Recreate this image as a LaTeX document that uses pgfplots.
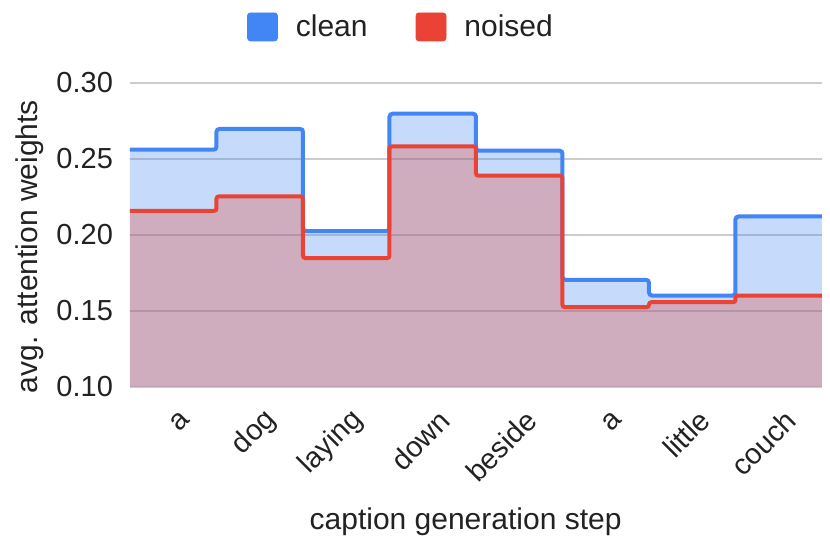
\documentclass[border=0pt]{standalone}
\usepackage{pgfplots}
\pgfplotsset{compat=1.18}
\usepackage{fontspec}
\setmainfont{Liberation Sans}
\definecolor{gblue}{HTML}{4285F4}
\definecolor{gred}{HTML}{EA4335}
\definecolor{gridc}{HTML}{CCCCCC}
\definecolor{txt}{HTML}{222222}
\begin{document}
\begin{tikzpicture}
\useasboundingbox (-65pt,-80.15pt) rectangle (350pt,193.35pt);
\begin{axis}[
  at={(0,0)}, anchor=south west,
  scale only axis, width=346pt, height=152pt,
  xmin=0, xmax=8, ymin=0.1, ymax=0.3,
  ytick={0.10,0.15,0.20,0.25,0.30},
  yticklabel style={/pgf/number format/fixed,/pgf/number format/precision=2,/pgf/number format/fixed zerofill, xshift=-5pt},
  /pgf/number format/assume math mode=true,
  xtick={0.5,1.5,2.5,3.5,4.5,5.5,6.5,7.5},
  xticklabels={a,dog,laying,down,beside,a,little,couch},
  x tick label style={xshift=8.5pt, yshift=-12pt, rotate=45, anchor=east},
  tick label style={font=\fontsize{14.5}{17}\selectfont, text=txt},
  ymajorgrids, grid style={gridc, line width=1pt},
  axis line style={draw=none}, major tick style={draw=none},
  every axis y label/.style={at={(rel axis cs:0,0.461)}, xshift=-50pt, rotate=90, anchor=center, font=\fontsize{15}{18}\selectfont, text=txt},
  every axis x label/.style={at={(rel axis cs:0.485,0)}, yshift=-67.6pt, anchor=center, font=\fontsize{15}{18}\selectfont, text=txt},
  ylabel={avg. attention weights},
  xlabel={caption generation step},
  legend style={at={(rel axis cs:0.393,1)}, yshift=27.9pt, anchor=center, draw=none, fill=none,
    legend columns=2, font=\fontsize{15}{18}\selectfont, text=txt,
    /tikz/every even column/.append style={column sep=22pt}},
  legend image code/.code={\fill[#1, rounded corners=1.5pt] (0pt,-7pt) rectangle (15pt,7pt); \path (22pt,0pt);},
  clip=false,
]
\addplot[fill=gblue, fill opacity=0.3, draw=none, forget plot] coordinates {
(0,0.2559) (1,0.2559) (1,0.2696) (2,0.2696) (2,0.2024) (3,0.2024) (3,0.2796) (4,0.2796) (4,0.2553) (5,0.2553) (5,0.1703) (6,0.1703) (6,0.1600) (7,0.1600) (7,0.2120) (8,0.2120)} |- (axis cs:0,0.1) -- cycle;
\addplot[fill=gred, fill opacity=0.3, draw=none, forget plot] coordinates {
(0,0.2157) (1,0.2157) (1,0.2252) (2,0.2252) (2,0.1846) (3,0.1846) (3,0.2581) (4,0.2581) (4,0.2388) (5,0.2388) (5,0.1523) (6,0.1523) (6,0.1556) (7,0.1556) (7,0.1600) (8,0.1600)} |- (axis cs:0,0.1) -- cycle;
\addplot[gblue, line width=2pt, rounded corners=1.5pt, line cap=butt, forget plot] coordinates {
(0,0.2559) (1,0.2559) (1,0.2696) (2,0.2696) (2,0.2024) (3,0.2024) (3,0.2796) (4,0.2796) (4,0.2553) (5,0.2553) (5,0.1703) (6,0.1703) (6,0.1600) (7,0.1600) (7,0.2120) (8,0.2120)};
\addplot[gred, line width=2pt, rounded corners=1.2pt, line cap=butt, forget plot] coordinates {
(0,0.2157) (1,0.2157) (1,0.2252) (2,0.2252) (2,0.1846) (3,0.1846) (3,0.2581) (4,0.2581) (4,0.2388) (5,0.2388) (5,0.1523) (6,0.1523) (6,0.1556) (7,0.1556) (7,0.1600) (8,0.1600)};
\addlegendimage{gblue}
\addlegendentry{clean}
\addlegendimage{gred}
\addlegendentry{noised}
\end{axis}
\end{tikzpicture}
\end{document}
